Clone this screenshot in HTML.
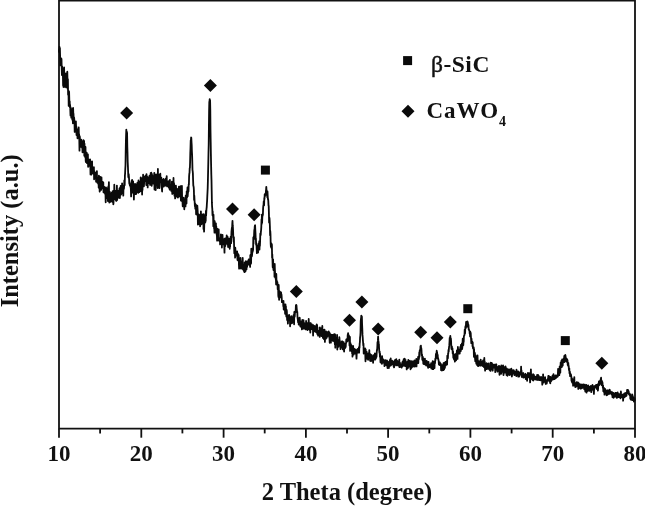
<!DOCTYPE html>
<html><head><meta charset="utf-8"><title>XRD pattern</title>
<style>
html,body{margin:0;padding:0;background:#fff;}
svg{display:block;}
text{font-family:"Liberation Serif","DejaVu Serif",serif;font-weight:bold;fill:#111;}
</style></head><body>
<svg width="645" height="506" viewBox="0 0 645 506">
<rect width="645" height="506" fill="#fff"/>
<g fill="none" stroke="#111" stroke-width="1.8" stroke-linecap="butt">
<path d="M59.0,0 V428.7 H635.0 V0"/>
<line x1="59.0" y1="0.6" x2="635.0" y2="0.6"/>
<line x1="59.0" y1="428.7" x2="59.0" y2="437.7"/><line x1="100.1" y1="428.7" x2="100.1" y2="433.4"/><line x1="141.3" y1="428.7" x2="141.3" y2="437.7"/><line x1="182.4" y1="428.7" x2="182.4" y2="433.4"/><line x1="223.6" y1="428.7" x2="223.6" y2="437.7"/><line x1="264.7" y1="428.7" x2="264.7" y2="433.4"/><line x1="305.9" y1="428.7" x2="305.9" y2="437.7"/><line x1="347.0" y1="428.7" x2="347.0" y2="433.4"/><line x1="388.1" y1="428.7" x2="388.1" y2="437.7"/><line x1="429.3" y1="428.7" x2="429.3" y2="433.4"/><line x1="470.4" y1="428.7" x2="470.4" y2="437.7"/><line x1="511.6" y1="428.7" x2="511.6" y2="433.4"/><line x1="552.7" y1="428.7" x2="552.7" y2="437.7"/><line x1="593.9" y1="428.7" x2="593.9" y2="433.4"/><line x1="635.0" y1="428.7" x2="635.0" y2="437.7"/>
</g>
<path d="M58.9,49.5 59.1,52.0 59.3,49.6 59.5,47.0 59.7,50.2 59.9,48.1 60.1,55.7 60.3,65.4 60.5,57.9 60.7,57.9 60.9,62.7 61.1,60.5 61.3,60.5 61.5,58.9 61.7,67.8 61.9,75.0 62.1,66.3 62.3,73.5 62.5,68.4 62.7,74.4 62.9,74.2 63.1,85.4 63.3,80.5 63.5,87.0 63.7,84.8 63.9,81.4 64.1,67.3 64.3,78.4 64.5,83.5 64.7,86.9 64.9,80.6 65.1,85.6 65.3,79.1 65.5,76.8 65.7,81.1 65.9,73.4 66.1,79.7 66.3,87.4 66.5,83.3 66.7,85.7 66.9,83.4 67.1,79.7 67.3,71.7 67.5,79.9 67.7,89.0 67.9,79.2 68.1,94.8 68.3,93.3 68.5,90.6 68.7,105.9 68.9,100.7 69.1,91.7 69.3,99.8 69.5,103.9 69.7,101.3 69.9,107.3 70.1,104.8 70.3,110.0 70.5,115.4 70.7,107.4 70.9,114.8 71.1,114.2 71.3,117.6 71.5,108.9 71.7,110.2 71.9,110.1 72.1,115.4 72.3,119.7 72.5,110.1 72.7,115.6 72.9,123.3 73.1,107.9 73.3,113.7 73.5,113.6 73.7,119.4 73.9,119.7 74.1,117.5 74.3,119.7 74.5,122.7 74.7,131.9 74.9,122.4 75.1,123.3 75.3,126.9 75.5,124.8 75.7,125.2 75.9,121.4 76.1,127.7 76.3,126.3 76.5,135.1 76.7,133.3 76.9,130.7 77.1,134.9 77.3,130.7 77.5,138.3 77.7,133.9 77.9,137.6 78.1,129.1 78.3,137.9 78.5,128.7 78.7,127.5 78.9,136.6 79.1,134.2 79.3,140.0 79.5,150.7 79.7,136.2 79.9,137.7 80.1,142.3 80.3,144.3 80.5,141.6 80.7,142.0 80.9,146.9 81.1,146.6 81.3,139.6 81.5,144.8 81.7,145.9 81.9,141.1 82.1,148.0 82.3,143.0 82.5,152.3 82.7,149.0 82.9,148.9 83.1,146.1 83.3,148.8 83.5,140.2 83.7,144.8 83.9,152.5 84.1,140.9 84.3,155.7 84.5,143.7 84.7,156.1 84.9,148.9 85.1,157.1 85.3,154.5 85.5,146.9 85.7,160.7 85.9,162.1 86.1,155.5 86.3,155.0 86.5,156.1 86.7,152.7 86.9,163.0 87.1,155.8 87.3,158.6 87.5,155.6 87.7,156.9 87.9,154.4 88.1,166.8 88.3,160.7 88.5,166.5 88.7,162.5 88.9,159.7 89.1,162.0 89.3,161.4 89.5,164.6 89.7,163.3 89.9,164.1 90.1,159.5 90.3,162.6 90.5,174.4 90.7,163.9 90.9,162.5 91.1,169.4 91.3,174.7 91.5,161.7 91.7,167.9 91.9,166.3 92.1,161.4 92.3,173.3 92.5,170.2 92.7,171.0 92.9,167.5 93.1,173.5 93.3,169.2 93.5,171.4 93.7,167.3 93.9,167.2 94.1,179.3 94.3,171.1 94.5,175.1 94.7,173.9 94.9,172.4 95.1,172.4 95.3,177.9 95.5,173.9 95.7,174.9 95.9,176.0 96.1,181.6 96.3,179.7 96.5,178.6 96.7,174.6 96.9,171.1 97.1,182.1 97.3,182.5 97.5,177.7 97.7,181.2 97.9,182.6 98.1,183.2 98.3,184.1 98.5,178.3 98.7,187.7 98.9,175.6 99.1,185.6 99.3,184.4 99.5,186.6 99.7,191.6 99.9,190.2 100.1,178.8 100.3,176.8 100.5,188.5 100.7,180.8 100.9,185.7 101.1,189.9 101.3,179.1 101.5,177.4 101.7,188.3 101.9,187.7 102.1,186.7 102.3,188.3 102.5,184.6 102.7,182.0 102.9,188.3 103.1,185.1 103.3,182.4 103.5,192.3 103.7,190.1 103.9,192.5 104.1,186.6 104.3,188.4 104.5,187.3 104.7,188.1 104.9,193.2 105.1,189.1 105.3,194.4 105.5,194.6 105.7,202.3 105.9,187.4 106.1,197.7 106.3,193.6 106.5,194.2 106.7,188.1 106.9,192.7 107.1,198.2 107.3,194.8 107.5,195.8 107.7,194.4 107.9,201.0 108.1,196.0 108.3,186.5 108.5,193.2 108.7,187.7 108.9,182.2 109.1,194.2 109.3,202.5 109.5,197.0 109.7,191.7 109.9,192.8 110.1,202.0 110.3,197.8 110.5,197.5 110.7,197.1 110.9,197.6 111.1,201.0 111.3,199.8 111.5,198.3 111.7,192.7 111.9,199.4 112.1,194.1 112.3,201.9 112.5,191.4 112.7,196.3 112.9,196.8 113.1,191.0 113.3,204.3 113.5,203.1 113.7,194.6 113.9,199.9 114.1,198.1 114.3,184.7 114.5,197.1 114.7,195.5 114.9,196.0 115.1,190.7 115.3,194.0 115.5,194.2 115.7,200.0 115.9,196.1 116.1,194.4 116.3,200.9 116.5,191.6 116.7,192.1 116.9,185.6 117.1,200.2 117.3,197.3 117.5,196.9 117.7,195.6 117.9,192.9 118.1,193.1 118.3,190.8 118.5,190.7 118.7,191.6 118.9,197.8 119.1,193.4 119.3,190.7 119.5,188.3 119.7,188.1 119.9,198.0 120.1,193.1 120.3,191.1 120.5,189.2 120.7,185.8 120.9,190.4 121.1,194.5 121.3,188.9 121.5,189.6 121.7,189.6 121.9,191.0 122.1,183.3 122.3,189.1 122.5,186.1 122.7,193.5 122.9,186.0 123.1,191.7 123.3,195.6 123.5,187.2 123.7,185.7 123.9,189.0 124.1,186.7 124.3,180.4 124.5,183.1 124.7,185.3 124.9,175.7 125.1,173.3 125.3,168.7 125.5,165.3 125.7,151.5 125.9,141.2 126.1,134.8 126.3,129.7 126.5,132.0 126.7,132.8 126.9,131.8 127.1,133.5 127.3,146.2 127.5,152.4 127.7,161.7 127.9,165.8 128.1,171.1 128.3,176.9 128.5,177.6 128.7,174.2 128.9,176.3 129.1,179.3 129.3,183.4 129.5,182.3 129.7,184.5 129.9,185.5 130.1,183.8 130.3,185.5 130.5,187.2 130.7,186.6 130.9,189.9 131.1,196.4 131.3,190.8 131.5,188.5 131.7,180.8 131.9,190.2 132.1,179.9 132.3,182.4 132.5,192.6 132.7,192.0 132.9,188.3 133.1,181.4 133.3,187.5 133.5,186.2 133.7,192.2 133.9,199.5 134.1,190.5 134.3,186.0 134.5,184.2 134.7,189.1 134.9,188.6 135.1,184.2 135.3,189.8 135.5,184.2 135.7,194.2 135.9,194.0 136.1,194.0 136.3,187.1 136.5,191.4 136.7,188.5 136.9,187.4 137.1,187.5 137.3,183.2 137.5,182.6 137.7,192.4 137.9,187.8 138.1,189.5 138.3,192.8 138.5,180.5 138.7,184.5 138.9,188.7 139.1,189.5 139.3,185.9 139.5,192.0 139.7,188.2 139.9,181.7 140.1,182.7 140.3,190.0 140.5,188.1 140.7,177.3 140.9,191.2 141.1,187.5 141.3,190.4 141.5,182.4 141.7,182.4 141.9,178.4 142.1,194.6 142.3,182.2 142.5,189.9 142.7,179.7 142.9,183.1 143.1,174.7 143.3,180.3 143.5,186.2 143.7,176.0 143.9,186.3 144.1,183.0 144.3,176.7 144.5,179.1 144.7,179.2 144.9,181.1 145.1,178.8 145.3,177.5 145.5,179.8 145.7,176.5 145.9,175.3 146.1,180.8 146.3,185.0 146.5,174.1 146.7,181.0 146.9,178.0 147.1,176.5 147.3,184.7 147.5,178.5 147.7,187.4 147.9,177.2 148.1,182.4 148.3,179.6 148.5,177.3 148.7,183.2 148.9,179.8 149.1,183.2 149.3,180.3 149.5,175.7 149.7,180.1 149.9,180.8 150.1,184.9 150.3,176.6 150.5,180.5 150.7,173.0 150.9,183.6 151.1,175.9 151.3,172.7 151.5,180.5 151.7,185.8 151.9,174.0 152.1,176.0 152.3,177.5 152.5,175.8 152.7,182.6 152.9,177.3 153.1,177.7 153.3,183.6 153.5,177.6 153.7,183.0 153.9,176.7 154.1,175.6 154.3,172.8 154.5,189.6 154.7,179.8 154.9,182.3 155.1,181.1 155.3,182.0 155.5,181.6 155.7,190.0 155.9,176.7 156.1,174.4 156.3,176.9 156.5,175.4 156.7,184.9 156.9,185.3 157.1,177.2 157.3,175.3 157.5,180.0 157.7,188.0 157.9,168.9 158.1,184.1 158.3,176.9 158.5,186.5 158.7,176.9 158.9,180.5 159.1,175.0 159.3,177.5 159.5,188.2 159.7,185.7 159.9,180.2 160.1,178.1 160.3,173.6 160.5,180.5 160.7,182.2 160.9,182.1 161.1,182.1 161.3,177.6 161.5,182.5 161.7,182.7 161.9,188.8 162.1,191.5 162.3,182.5 162.5,179.8 162.7,183.1 162.9,180.7 163.1,180.2 163.3,183.4 163.5,179.0 163.7,186.6 163.9,183.5 164.1,185.2 164.3,183.3 164.5,181.0 164.7,180.1 164.9,183.4 165.1,182.1 165.3,185.7 165.5,184.7 165.7,178.7 165.9,185.3 166.1,179.0 166.3,182.4 166.5,184.0 166.7,176.1 166.9,185.9 167.1,186.3 167.3,185.0 167.5,184.0 167.7,184.3 167.9,181.7 168.1,185.0 168.3,183.8 168.5,186.9 168.7,181.2 168.9,187.7 169.1,187.4 169.3,186.3 169.5,185.1 169.7,189.6 169.9,179.8 170.1,189.4 170.3,188.6 170.5,188.9 170.7,189.4 170.9,184.9 171.1,186.8 171.3,190.9 171.5,190.1 171.7,189.2 171.9,181.6 172.1,190.9 172.3,193.9 172.5,193.3 172.7,189.9 172.9,182.0 173.1,193.3 173.3,188.6 173.5,178.0 173.7,191.1 173.9,182.9 174.1,184.0 174.3,187.1 174.5,195.8 174.7,188.6 174.9,191.6 175.1,198.4 175.3,197.8 175.5,190.5 175.7,190.0 175.9,185.6 176.1,188.3 176.3,193.5 176.5,193.5 176.7,192.4 176.9,196.5 177.1,188.8 177.3,192.2 177.5,195.8 177.7,195.3 177.9,197.7 178.1,194.8 178.3,191.9 178.5,195.0 178.7,189.2 178.9,186.7 179.1,196.7 179.3,194.2 179.5,196.1 179.7,187.5 179.9,193.6 180.1,192.8 180.3,191.9 180.5,186.1 180.7,194.8 180.9,200.5 181.1,198.5 181.3,194.4 181.5,197.3 181.7,200.9 181.9,185.8 182.1,197.6 182.3,200.7 182.5,201.6 182.7,206.3 182.9,204.0 183.1,200.7 183.3,200.9 183.5,203.2 183.7,197.7 183.9,200.1 184.1,204.5 184.3,209.3 184.5,200.3 184.7,200.6 184.9,201.5 185.1,206.3 185.3,200.1 185.5,206.4 185.7,195.6 185.9,198.8 186.1,198.5 186.3,202.6 186.5,203.6 186.7,191.3 186.9,192.8 187.1,197.2 187.3,191.8 187.5,187.5 187.7,196.3 187.9,193.0 188.1,191.9 188.3,187.6 188.5,191.2 188.7,184.3 188.9,184.7 189.1,176.6 189.3,173.8 189.5,173.1 189.7,168.2 189.9,167.8 190.1,162.1 190.3,153.1 190.5,148.0 190.7,140.4 190.9,141.4 191.1,137.5 191.3,137.8 191.5,141.9 191.7,144.9 191.9,151.4 192.1,154.8 192.3,162.0 192.5,170.1 192.7,171.2 192.9,173.6 193.1,180.3 193.3,185.5 193.5,186.1 193.7,187.3 193.9,190.3 194.1,200.0 194.3,195.6 194.5,199.7 194.7,202.8 194.9,206.1 195.1,203.5 195.3,208.6 195.5,204.2 195.7,206.9 195.9,204.6 196.1,214.3 196.3,209.8 196.5,207.3 196.7,209.4 196.9,210.4 197.1,214.8 197.3,205.6 197.5,208.4 197.7,211.7 197.9,224.5 198.1,218.2 198.3,214.1 198.5,218.0 198.7,224.1 198.9,214.8 199.1,214.7 199.3,221.7 199.5,219.1 199.7,220.2 199.9,215.7 200.1,226.3 200.3,225.7 200.5,221.4 200.7,222.3 200.9,211.3 201.1,222.8 201.3,219.7 201.5,222.6 201.7,224.0 201.9,220.0 202.1,214.7 202.3,223.6 202.5,219.3 202.7,221.4 202.9,220.5 203.1,221.9 203.3,214.1 203.5,229.0 203.7,224.8 203.9,228.2 204.1,231.6 204.3,223.3 204.5,215.5 204.7,219.1 204.9,217.6 205.1,220.3 205.3,222.5 205.5,213.7 205.7,221.0 205.9,210.8 206.1,215.8 206.3,211.8 206.5,208.8 206.7,207.1 206.9,203.5 207.1,200.9 207.3,196.1 207.5,192.2 207.7,188.0 207.9,180.4 208.1,171.5 208.3,162.7 208.5,152.7 208.7,144.6 208.9,126.4 209.1,110.7 209.3,101.9 209.5,101.4 209.7,99.2 209.9,101.0 210.1,100.4 210.3,110.2 210.5,130.5 210.7,142.0 210.9,154.2 211.1,164.6 211.3,174.1 211.5,180.1 211.7,190.9 211.9,202.4 212.1,206.8 212.3,208.9 212.5,215.2 212.7,211.3 212.9,216.0 213.1,216.2 213.3,226.2 213.5,214.7 213.7,221.6 213.9,222.8 214.1,228.4 214.3,228.8 214.5,232.7 214.7,221.2 214.9,231.4 215.1,227.8 215.3,227.0 215.5,232.5 215.7,227.3 215.9,223.3 216.1,230.7 216.3,226.5 216.5,230.4 216.7,234.9 216.9,235.1 217.1,240.6 217.3,233.8 217.5,228.8 217.7,232.4 217.9,232.1 218.1,231.3 218.3,238.3 218.5,234.4 218.7,229.5 218.9,240.6 219.1,237.8 219.3,240.0 219.5,239.4 219.7,241.7 219.9,239.5 220.1,244.4 220.3,241.4 220.5,241.4 220.7,241.7 220.9,234.4 221.1,239.7 221.3,239.5 221.5,241.5 221.7,235.5 221.9,247.5 222.1,241.6 222.3,236.6 222.5,234.8 222.7,240.6 222.9,241.6 223.1,239.2 223.3,242.5 223.5,239.7 223.7,244.5 223.9,239.5 224.1,242.3 224.3,246.4 224.5,252.7 224.7,238.7 224.9,241.0 225.1,239.6 225.3,246.0 225.5,238.5 225.7,241.2 225.9,243.1 226.1,239.4 226.3,239.6 226.5,241.6 226.7,235.3 226.9,238.0 227.1,242.1 227.3,244.4 227.5,243.1 227.7,237.0 227.9,242.1 228.1,247.0 228.3,246.0 228.5,243.4 228.7,240.1 228.9,246.0 229.1,241.1 229.3,238.7 229.5,240.1 229.7,248.8 229.9,243.9 230.1,246.8 230.3,239.3 230.5,243.0 230.7,236.6 230.9,236.7 231.1,243.2 231.3,236.8 231.5,231.3 231.7,229.6 231.9,227.7 232.1,228.5 232.3,223.6 232.5,220.9 232.7,225.2 232.9,227.0 233.1,230.9 233.3,237.8 233.5,237.9 233.7,241.6 233.9,237.2 234.1,246.3 234.3,253.2 234.5,250.0 234.7,250.0 234.9,250.8 235.1,257.6 235.3,247.7 235.5,251.3 235.7,254.0 235.9,255.6 236.1,251.6 236.3,254.9 236.5,253.2 236.7,255.2 236.9,254.7 237.1,251.4 237.3,256.1 237.5,260.0 237.7,253.4 237.9,256.6 238.1,260.4 238.3,254.3 238.5,259.5 238.7,255.2 238.9,263.9 239.1,268.7 239.3,268.1 239.5,260.1 239.7,264.1 239.9,262.2 240.1,262.5 240.3,268.2 240.5,257.8 240.7,266.9 240.9,263.0 241.1,268.7 241.3,264.5 241.5,261.6 241.7,265.3 241.9,267.3 242.1,265.0 242.3,266.9 242.5,263.5 242.7,257.8 242.9,269.3 243.1,268.8 243.3,267.0 243.5,267.0 243.7,270.8 243.9,265.6 244.1,265.0 244.3,267.2 244.5,272.2 244.7,262.5 244.9,271.7 245.1,264.7 245.3,262.7 245.5,271.1 245.7,265.8 245.9,261.1 246.1,264.3 246.3,268.8 246.5,269.5 246.7,263.2 246.9,266.0 247.1,266.9 247.3,261.6 247.5,265.0 247.7,263.3 247.9,261.1 248.1,261.0 248.3,262.6 248.5,262.0 248.7,259.4 248.9,259.5 249.1,264.8 249.3,261.0 249.5,263.1 249.7,263.8 249.9,261.1 250.1,266.9 250.3,255.1 250.5,260.7 250.7,256.1 250.9,263.7 251.1,262.7 251.3,248.7 251.5,251.5 251.7,256.5 251.9,256.1 252.1,254.9 252.3,251.0 252.5,252.0 252.7,251.8 252.9,248.2 253.1,250.3 253.3,237.3 253.5,243.8 253.7,236.8 253.9,239.6 254.1,234.1 254.3,229.9 254.5,230.7 254.7,226.8 254.9,225.6 255.1,225.3 255.3,229.8 255.5,233.5 255.7,238.9 255.9,238.6 256.1,244.6 256.3,243.1 256.5,244.6 256.7,249.2 256.9,253.1 257.1,248.5 257.3,248.7 257.5,248.7 257.7,249.4 257.9,245.3 258.1,252.5 258.3,246.7 258.5,249.8 258.7,243.5 258.9,246.8 259.1,245.6 259.3,241.1 259.5,249.5 259.7,241.7 259.9,246.0 260.1,241.4 260.3,233.7 260.5,233.5 260.7,235.1 260.9,231.8 261.1,230.1 261.3,227.0 261.5,219.4 261.7,223.9 261.9,214.7 262.1,222.7 262.3,217.3 262.5,215.8 262.7,215.4 262.9,214.7 263.1,208.3 263.3,205.7 263.5,205.5 263.7,201.5 263.9,201.9 264.1,205.3 264.3,197.9 264.5,199.3 264.7,194.3 264.9,196.5 265.1,194.2 265.3,193.7 265.5,193.8 265.7,194.9 265.9,191.0 266.1,189.8 266.3,186.8 266.5,190.7 266.7,190.3 266.9,193.4 267.1,192.9 267.3,197.3 267.5,191.5 267.7,195.8 267.9,199.1 268.1,198.9 268.3,201.1 268.5,205.4 268.7,205.9 268.9,212.7 269.1,222.6 269.3,222.5 269.5,218.0 269.7,221.5 269.9,226.5 270.1,235.3 270.3,231.0 270.5,234.6 270.7,243.9 270.9,246.9 271.1,244.4 271.3,243.4 271.5,243.5 271.7,248.6 271.9,244.6 272.1,257.8 272.3,254.3 272.5,260.3 272.7,267.3 272.9,266.5 273.1,259.3 273.3,267.9 273.5,270.1 273.7,264.2 273.9,264.6 274.1,268.8 274.3,264.5 274.5,276.8 274.7,263.9 274.9,269.7 275.1,273.8 275.3,275.1 275.5,277.7 275.7,279.1 275.9,278.6 276.1,284.4 276.3,273.9 276.5,282.1 276.7,280.3 276.9,284.0 277.1,285.0 277.3,281.8 277.5,283.4 277.7,289.1 277.9,288.3 278.1,285.5 278.3,295.5 278.5,297.1 278.7,285.0 278.9,291.7 279.1,299.8 279.3,294.4 279.5,293.0 279.7,292.1 279.9,291.5 280.1,293.1 280.3,292.5 280.5,297.4 280.7,294.1 280.9,294.5 281.1,292.5 281.3,296.8 281.5,294.5 281.7,297.4 281.9,302.1 282.1,300.6 282.3,301.8 282.5,302.0 282.7,301.8 282.9,301.9 283.1,302.0 283.3,306.2 283.5,301.0 283.7,309.5 283.9,306.0 284.1,304.2 284.3,305.8 284.5,305.9 284.7,309.3 284.9,307.2 285.1,313.8 285.3,308.5 285.5,304.5 285.7,309.9 285.9,306.3 286.1,312.8 286.3,316.5 286.5,315.6 286.7,309.8 286.9,311.9 287.1,320.1 287.3,316.0 287.5,315.4 287.7,319.0 287.9,323.6 288.1,320.4 288.3,317.2 288.5,318.2 288.7,319.4 288.9,316.0 289.1,314.9 289.3,318.5 289.5,315.7 289.7,318.6 289.9,319.3 290.1,326.3 290.3,316.9 290.5,319.3 290.7,319.4 290.9,321.5 291.1,323.5 291.3,319.1 291.5,318.4 291.7,316.1 291.9,318.5 292.1,323.1 292.3,321.5 292.5,318.1 292.7,319.9 292.9,321.0 293.1,322.2 293.3,318.8 293.5,319.6 293.7,314.8 293.9,316.6 294.1,324.3 294.3,312.0 294.5,316.2 294.7,316.6 294.9,313.9 295.1,311.8 295.3,312.4 295.5,311.4 295.7,310.0 295.9,305.2 296.1,307.5 296.3,305.0 296.5,305.6 296.7,308.2 296.9,310.3 297.1,312.9 297.3,311.9 297.5,316.8 297.7,318.9 297.9,320.2 298.1,322.4 298.3,319.6 298.5,320.8 298.7,324.5 298.9,318.2 299.1,323.0 299.3,321.0 299.5,321.7 299.7,317.7 299.9,320.4 300.1,323.2 300.3,326.1 300.5,326.5 300.7,323.5 300.9,323.4 301.1,321.6 301.3,325.3 301.5,323.4 301.7,326.0 301.9,329.4 302.1,324.2 302.3,320.0 302.5,321.9 302.7,320.2 302.9,321.0 303.1,328.5 303.3,325.3 303.5,320.2 303.7,326.7 303.9,328.6 304.1,323.8 304.3,323.0 304.5,324.0 304.7,325.9 304.9,327.0 305.1,328.7 305.3,328.8 305.5,328.8 305.7,329.4 305.9,327.4 306.1,321.0 306.3,325.2 306.5,326.5 306.7,324.5 306.9,328.4 307.1,324.7 307.3,323.1 307.5,330.1 307.7,327.9 307.9,326.6 308.1,328.8 308.3,329.2 308.5,327.1 308.7,319.0 308.9,324.3 309.1,324.9 309.3,323.5 309.5,327.0 309.7,329.9 309.9,325.1 310.1,323.2 310.3,332.5 310.5,325.3 310.7,323.1 310.9,327.4 311.1,328.0 311.3,324.8 311.5,329.2 311.7,325.5 311.9,324.3 312.1,327.5 312.3,329.3 312.5,325.2 312.7,328.1 312.9,326.9 313.1,335.5 313.3,325.2 313.5,331.4 313.7,327.2 313.9,327.1 314.1,329.6 314.3,330.1 314.5,331.3 314.7,328.6 314.9,325.9 315.1,326.2 315.3,329.2 315.5,329.5 315.7,331.9 315.9,329.1 316.1,331.0 316.3,332.4 316.5,328.8 316.7,324.3 316.9,325.5 317.1,325.0 317.3,334.1 317.5,327.3 317.7,333.6 317.9,332.1 318.1,335.6 318.3,333.8 318.5,331.0 318.7,331.0 318.9,332.1 319.1,332.5 319.3,330.6 319.5,332.1 319.7,336.9 319.9,327.5 320.1,333.2 320.3,329.9 320.5,333.1 320.7,335.1 320.9,332.6 321.1,335.0 321.3,328.4 321.5,336.1 321.7,331.4 321.9,334.9 322.1,333.7 322.3,326.0 322.5,331.3 322.7,334.1 322.9,337.9 323.1,334.4 323.3,334.4 323.5,329.8 323.7,337.9 323.9,339.0 324.1,334.1 324.3,333.5 324.5,329.6 324.7,336.7 324.9,341.9 325.1,336.4 325.3,338.1 325.5,336.1 325.7,332.0 325.9,338.6 326.1,331.5 326.3,334.5 326.5,336.0 326.7,337.8 326.9,336.6 327.1,336.7 327.3,333.6 327.5,332.2 327.7,336.1 327.9,334.1 328.1,332.6 328.3,332.8 328.5,335.1 328.7,331.4 328.9,333.0 329.1,332.3 329.3,337.5 329.5,338.2 329.7,342.8 329.9,333.2 330.1,335.6 330.3,340.1 330.5,337.1 330.7,336.9 330.9,342.6 331.1,337.1 331.3,335.0 331.5,334.7 331.7,339.3 331.9,339.4 332.1,334.9 332.3,336.1 332.5,340.4 332.7,340.6 332.9,337.4 333.1,341.0 333.3,340.9 333.5,334.6 333.7,338.8 333.9,340.9 334.1,338.3 334.3,334.1 334.5,339.3 334.7,342.3 334.9,344.6 335.1,334.5 335.3,347.7 335.5,337.6 335.7,343.4 335.9,344.3 336.1,343.7 336.3,341.6 336.5,338.2 336.7,343.1 336.9,339.6 337.1,334.9 337.3,349.5 337.5,343.9 337.7,347.0 337.9,339.8 338.1,346.3 338.3,346.8 338.5,346.8 338.7,342.7 338.9,339.7 339.1,342.5 339.3,337.2 339.5,338.7 339.7,343.6 339.9,340.9 340.1,343.2 340.3,343.5 340.5,349.1 340.7,347.5 340.9,344.1 341.1,347.5 341.3,342.4 341.5,343.6 341.7,347.0 341.9,341.4 342.1,344.0 342.3,341.3 342.5,345.2 342.7,349.3 342.9,343.1 343.1,345.7 343.3,342.8 343.5,342.2 343.7,342.1 343.9,349.3 344.1,351.7 344.3,346.8 344.5,343.7 344.7,347.6 344.9,344.9 345.1,348.0 345.3,346.7 345.5,346.7 345.7,347.0 345.9,343.4 346.1,343.3 346.3,339.4 346.5,342.1 346.7,339.2 346.9,341.8 347.1,339.3 347.3,341.2 347.5,340.3 347.7,334.8 347.9,334.4 348.1,333.1 348.3,334.9 348.5,336.6 348.7,336.4 348.9,335.3 349.1,340.9 349.3,336.8 349.5,345.4 349.7,341.2 349.9,336.8 350.1,350.9 350.3,349.1 350.5,343.1 350.7,347.0 350.9,346.8 351.1,348.4 351.3,345.0 351.5,347.9 351.7,351.3 351.9,350.8 352.1,353.4 352.3,350.6 352.5,356.6 352.7,348.9 352.9,351.5 353.1,346.0 353.3,347.9 353.5,354.6 353.7,348.9 353.9,352.8 354.1,351.4 354.3,348.9 354.5,350.7 354.7,350.3 354.9,350.4 355.1,353.6 355.3,353.4 355.5,350.3 355.7,349.5 355.9,352.5 356.1,351.6 356.3,354.5 356.5,358.6 356.7,354.1 356.9,351.9 357.1,351.5 357.3,349.7 357.5,349.4 357.7,348.9 357.9,350.2 358.1,349.9 358.3,352.7 358.5,349.5 358.7,349.8 358.9,347.1 359.1,352.7 359.3,347.6 359.5,347.8 359.7,343.4 359.9,342.2 360.1,336.9 360.3,336.1 360.5,332.9 360.7,321.7 360.9,319.0 361.1,318.4 361.3,315.6 361.5,316.0 361.7,317.9 361.9,316.7 362.1,324.2 362.3,328.6 362.5,334.9 362.7,337.1 362.9,340.1 363.1,342.7 363.3,345.5 363.5,343.7 363.7,353.5 363.9,353.0 364.1,352.5 364.3,350.2 364.5,351.3 364.7,353.4 364.9,353.5 365.1,348.5 365.3,355.2 365.5,361.3 365.7,349.3 365.9,356.8 366.1,355.3 366.3,354.2 366.5,358.2 366.7,351.8 366.9,355.4 367.1,358.8 367.3,354.7 367.5,354.3 367.7,355.8 367.9,354.6 368.1,359.8 368.3,353.7 368.5,358.3 368.7,353.1 368.9,358.1 369.1,356.3 369.3,350.1 369.5,356.7 369.7,354.1 369.9,355.7 370.1,360.8 370.3,354.2 370.5,354.4 370.7,360.8 370.9,357.5 371.1,361.2 371.3,358.2 371.5,355.2 371.7,357.3 371.9,360.7 372.1,360.0 372.3,357.7 372.5,357.9 372.7,357.6 372.9,356.5 373.1,362.8 373.3,358.0 373.5,355.1 373.7,356.7 373.9,359.6 374.1,359.4 374.3,357.4 374.5,356.0 374.7,357.7 374.9,353.4 375.1,354.3 375.3,359.6 375.5,356.3 375.7,357.4 375.9,358.4 376.1,356.0 376.3,353.5 376.5,357.0 376.7,352.9 376.9,349.8 377.1,350.1 377.3,347.0 377.5,342.4 377.7,342.0 377.9,340.4 378.1,336.6 378.3,340.4 378.5,341.5 378.7,343.2 378.9,343.9 379.1,348.9 379.3,351.5 379.5,353.1 379.7,351.6 379.9,356.7 380.1,353.7 380.3,357.2 380.5,362.3 380.7,357.6 380.9,358.4 381.1,362.7 381.3,359.4 381.5,359.9 381.7,361.5 381.9,363.9 382.1,356.1 382.3,359.6 382.5,359.2 382.7,359.0 382.9,359.6 383.1,359.7 383.3,362.6 383.5,359.7 383.7,362.2 383.9,363.0 384.1,360.3 384.3,362.4 384.5,366.1 384.7,363.0 384.9,360.7 385.1,362.1 385.3,360.1 385.5,363.0 385.7,364.5 385.9,360.5 386.1,362.0 386.3,365.3 386.5,361.4 386.7,363.1 386.9,360.3 387.1,360.8 387.3,361.6 387.5,368.0 387.7,362.0 387.9,361.7 388.1,361.7 388.3,362.7 388.5,364.6 388.7,363.5 388.9,368.0 389.1,363.7 389.3,366.6 389.5,363.9 389.7,364.7 389.9,359.9 390.1,363.0 390.3,363.2 390.5,362.8 390.7,358.3 390.9,365.5 391.1,362.5 391.3,362.4 391.5,362.9 391.7,363.0 391.9,364.5 392.1,360.6 392.3,361.4 392.5,364.3 392.7,364.0 392.9,362.8 393.1,362.4 393.3,361.8 393.5,363.6 393.7,366.6 393.9,361.4 394.1,367.4 394.3,365.9 394.5,362.9 394.7,365.8 394.9,360.6 395.1,360.0 395.3,361.0 395.5,363.1 395.7,363.3 395.9,362.9 396.1,364.3 396.3,359.1 396.5,365.3 396.7,360.8 396.9,362.6 397.1,363.2 397.3,361.5 397.5,361.0 397.7,361.9 397.9,364.2 398.1,365.6 398.3,365.6 398.5,362.0 398.7,362.5 398.9,362.2 399.1,365.4 399.3,359.6 399.5,367.2 399.7,363.2 399.9,362.6 400.1,365.2 400.3,366.8 400.5,365.2 400.7,366.8 400.9,364.7 401.1,367.2 401.3,367.2 401.5,364.1 401.7,367.7 401.9,364.7 402.1,364.5 402.3,362.2 402.5,363.6 402.7,366.1 402.9,361.2 403.1,365.8 403.3,365.1 403.5,364.9 403.7,359.1 403.9,364.0 404.1,365.7 404.3,362.4 404.5,364.4 404.7,358.7 404.9,365.8 405.1,362.7 405.3,366.2 405.5,359.9 405.7,365.8 405.9,363.6 406.1,366.0 406.3,362.0 406.5,362.7 406.7,369.4 406.9,362.2 407.1,362.5 407.3,363.5 407.5,361.7 407.7,366.9 407.9,368.1 408.1,362.4 408.3,360.0 408.5,366.8 408.7,366.6 408.9,366.0 409.1,366.7 409.3,362.0 409.5,363.6 409.7,360.8 409.9,360.7 410.1,366.3 410.3,362.4 410.5,369.3 410.7,364.2 410.9,362.5 411.1,365.9 411.3,368.2 411.5,365.1 411.7,361.2 411.9,364.9 412.1,367.2 412.3,362.8 412.5,362.2 412.7,366.4 412.9,364.3 413.1,361.4 413.3,363.1 413.5,362.2 413.7,364.7 413.9,364.3 414.1,366.7 414.3,365.7 414.5,360.3 414.7,365.0 414.9,366.1 415.1,365.1 415.3,366.4 415.5,362.7 415.7,361.8 415.9,366.2 416.1,361.5 416.3,359.0 416.5,366.4 416.7,362.3 416.9,363.3 417.1,360.6 417.3,360.3 417.5,360.4 417.7,361.8 417.9,363.0 418.1,356.8 418.3,363.0 418.5,358.5 418.7,357.4 418.9,359.3 419.1,356.4 419.3,352.3 419.5,356.6 419.7,350.6 419.9,351.0 420.1,349.5 420.3,350.0 420.5,346.1 420.7,346.9 420.9,345.6 421.1,349.5 421.3,348.1 421.5,350.2 421.7,355.3 421.9,354.1 422.1,354.9 422.3,359.8 422.5,357.7 422.7,356.6 422.9,360.7 423.1,358.0 423.3,363.5 423.5,364.0 423.7,360.4 423.9,360.6 424.1,362.6 424.3,362.5 424.5,360.6 424.7,364.3 424.9,358.6 425.1,362.6 425.3,362.9 425.5,363.4 425.7,364.8 425.9,361.2 426.1,365.4 426.3,363.7 426.5,362.6 426.7,361.0 426.9,361.4 427.1,365.0 427.3,362.0 427.5,364.4 427.7,366.7 427.9,366.7 428.1,367.9 428.3,363.6 428.5,361.8 428.7,366.7 428.9,365.1 429.1,367.0 429.3,364.4 429.5,367.2 429.7,366.4 429.9,366.2 430.1,365.7 430.3,365.4 430.5,365.0 430.7,364.9 430.9,366.7 431.1,363.2 431.3,368.4 431.5,364.1 431.7,366.6 431.9,364.1 432.1,363.7 432.3,369.0 432.5,363.5 432.7,361.2 432.9,362.5 433.1,363.4 433.3,369.2 433.5,364.6 433.7,366.3 433.9,361.7 434.1,364.9 434.3,365.6 434.5,368.2 434.7,361.6 434.9,363.7 435.1,362.2 435.3,358.7 435.5,360.0 435.7,358.7 435.9,354.0 436.1,358.3 436.3,356.6 436.5,353.4 436.7,350.7 436.9,354.0 437.1,352.1 437.3,354.5 437.5,356.4 437.7,354.8 437.9,358.7 438.1,358.0 438.3,359.3 438.5,360.1 438.7,361.2 438.9,364.5 439.1,363.4 439.3,363.6 439.5,363.5 439.7,365.1 439.9,362.4 440.1,363.5 440.3,364.8 440.5,363.7 440.7,365.0 440.9,364.0 441.1,370.1 441.3,368.5 441.5,366.5 441.7,365.3 441.9,370.5 442.1,366.1 442.3,365.2 442.5,366.1 442.7,366.0 442.9,368.6 443.1,365.3 443.3,370.1 443.5,363.2 443.7,366.8 443.9,362.9 444.1,369.4 444.3,364.4 444.5,365.0 444.7,367.3 444.9,368.0 445.1,362.5 445.3,364.3 445.5,361.8 445.7,365.4 445.9,364.8 446.1,364.2 446.3,363.0 446.5,362.8 446.7,361.1 446.9,363.2 447.1,364.5 447.3,355.7 447.5,359.0 447.7,357.5 447.9,358.3 448.1,353.3 448.3,353.4 448.5,349.9 448.7,351.6 448.9,348.8 449.1,346.6 449.3,345.4 449.5,342.1 449.7,337.8 449.9,339.3 450.1,337.6 450.3,335.8 450.5,338.6 450.7,340.2 450.9,338.5 451.1,341.2 451.3,347.5 451.5,349.2 451.7,346.3 451.9,346.5 452.1,348.6 452.3,350.0 452.5,348.5 452.7,353.5 452.9,351.1 453.1,351.8 453.3,357.6 453.5,354.2 453.7,356.2 453.9,358.5 454.1,359.5 454.3,357.2 454.5,357.9 454.7,355.5 454.9,361.6 455.1,358.7 455.3,354.1 455.5,356.6 455.7,358.1 455.9,357.3 456.1,360.3 456.3,358.6 456.5,353.3 456.7,353.9 456.9,350.4 457.1,353.7 457.3,352.9 457.5,358.9 457.7,352.4 457.9,347.0 458.1,350.7 458.3,352.8 458.5,349.5 458.7,350.6 458.9,352.0 459.1,353.7 459.3,352.0 459.5,349.7 459.7,353.6 459.9,349.8 460.1,349.5 460.3,346.9 460.5,348.0 460.7,351.1 460.9,344.8 461.1,348.2 461.3,349.7 461.5,346.4 461.7,347.4 461.9,343.4 462.1,349.0 462.3,347.6 462.5,344.6 462.7,338.7 462.9,339.7 463.1,344.1 463.3,345.3 463.5,340.8 463.7,342.0 463.9,336.1 464.1,336.0 464.3,335.2 464.5,334.9 464.7,329.6 464.9,333.5 465.1,333.1 465.3,327.5 465.5,326.2 465.7,328.4 465.9,325.7 466.1,321.9 466.3,326.3 466.5,324.8 466.7,323.2 466.9,326.9 467.1,323.2 467.3,321.3 467.5,323.2 467.7,322.0 467.9,323.0 468.1,325.5 468.3,324.5 468.5,325.2 468.7,329.7 468.9,329.1 469.1,329.9 469.3,330.2 469.5,330.9 469.7,333.6 469.9,331.6 470.1,336.4 470.3,331.7 470.5,334.2 470.7,332.8 470.9,336.2 471.1,339.5 471.3,343.1 471.5,338.6 471.7,341.5 471.9,341.7 472.1,341.8 472.3,341.7 472.5,346.2 472.7,342.3 472.9,347.9 473.1,348.5 473.3,347.6 473.5,347.5 473.7,347.3 473.9,356.5 474.1,349.1 474.3,357.3 474.5,355.7 474.7,354.1 474.9,352.9 475.1,359.2 475.3,361.4 475.5,355.2 475.7,357.1 475.9,360.7 476.1,359.3 476.3,363.6 476.5,357.7 476.7,360.7 476.9,356.7 477.1,365.1 477.3,358.6 477.5,355.4 477.7,360.7 477.9,361.0 478.1,366.1 478.3,360.8 478.5,361.7 478.7,363.3 478.9,365.7 479.1,361.9 479.3,364.6 479.5,363.5 479.7,361.6 479.9,362.6 480.1,362.6 480.3,360.5 480.5,365.6 480.7,359.6 480.9,365.7 481.1,365.3 481.3,362.9 481.5,361.5 481.7,362.8 481.9,364.6 482.1,365.3 482.3,364.3 482.5,366.0 482.7,362.5 482.9,364.4 483.1,360.3 483.3,365.8 483.5,364.5 483.7,363.3 483.9,367.0 484.1,366.0 484.3,357.9 484.5,364.7 484.7,361.3 484.9,367.2 485.1,370.6 485.3,363.7 485.5,365.2 485.7,364.5 485.9,366.0 486.1,366.7 486.3,368.3 486.5,363.1 486.7,369.1 486.9,363.5 487.1,366.3 487.3,368.4 487.5,367.5 487.7,363.8 487.9,364.4 488.1,365.1 488.3,366.1 488.5,368.9 488.7,363.4 488.9,367.5 489.1,367.9 489.3,367.8 489.5,367.7 489.7,370.1 489.9,367.8 490.1,368.7 490.3,368.1 490.5,370.9 490.7,362.6 490.9,369.9 491.1,366.4 491.3,366.4 491.5,364.9 491.7,362.9 491.9,366.3 492.1,365.6 492.3,368.4 492.5,364.0 492.7,370.6 492.9,368.0 493.1,366.9 493.3,365.9 493.5,365.7 493.7,365.0 493.9,366.4 494.1,367.7 494.3,367.3 494.5,364.6 494.7,367.2 494.9,365.8 495.1,368.3 495.3,372.2 495.5,369.4 495.7,367.3 495.9,364.4 496.1,365.0 496.3,364.4 496.5,369.9 496.7,366.6 496.9,368.5 497.1,367.0 497.3,368.7 497.5,371.7 497.7,367.0 497.9,367.9 498.1,366.9 498.3,370.7 498.5,366.5 498.7,366.3 498.9,365.8 499.1,365.8 499.3,370.1 499.5,374.8 499.7,366.9 499.9,371.3 500.1,369.8 500.3,366.8 500.5,368.7 500.7,368.9 500.9,367.9 501.1,373.8 501.3,365.3 501.5,370.5 501.7,370.4 501.9,368.4 502.1,370.1 502.3,371.8 502.5,370.2 502.7,370.8 502.9,371.5 503.1,365.5 503.3,373.4 503.5,375.2 503.7,372.4 503.9,372.5 504.1,367.1 504.3,370.1 504.5,368.6 504.7,369.1 504.9,372.6 505.1,368.7 505.3,370.3 505.5,366.4 505.7,370.3 505.9,370.9 506.1,369.2 506.3,369.2 506.5,375.0 506.7,368.3 506.9,368.7 507.1,369.2 507.3,373.7 507.5,375.8 507.7,371.9 507.9,369.6 508.1,370.3 508.3,373.7 508.5,369.4 508.7,374.6 508.9,374.6 509.1,371.7 509.3,373.0 509.5,373.3 509.7,375.1 509.9,369.4 510.1,374.4 510.3,371.0 510.5,370.2 510.7,372.1 510.9,371.5 511.1,369.9 511.3,368.6 511.5,370.1 511.7,375.4 511.9,376.5 512.1,373.7 512.3,374.9 512.5,371.2 512.7,372.3 512.9,373.1 513.1,370.2 513.3,370.4 513.5,372.8 513.7,372.0 513.9,370.4 514.1,373.6 514.3,372.3 514.5,375.1 514.7,372.9 514.9,372.3 515.1,373.3 515.3,372.7 515.5,371.7 515.7,372.3 515.9,374.8 516.1,374.7 516.3,376.1 516.5,369.7 516.7,372.6 516.9,372.6 517.1,373.9 517.3,372.6 517.5,372.5 517.7,375.4 517.9,374.1 518.1,371.3 518.3,376.7 518.5,376.0 518.7,372.7 518.9,375.8 519.1,372.4 519.3,376.5 519.5,373.6 519.7,372.4 519.9,373.4 520.1,372.6 520.3,374.7 520.5,374.7 520.7,374.5 520.9,373.2 521.1,366.6 521.3,374.7 521.5,370.5 521.7,375.1 521.9,377.1 522.1,375.3 522.3,373.9 522.5,374.4 522.7,374.6 522.9,373.7 523.1,373.7 523.3,373.0 523.5,377.6 523.7,375.0 523.9,377.1 524.1,374.6 524.3,375.4 524.5,374.9 524.7,376.3 524.9,377.1 525.1,375.9 525.3,374.0 525.5,373.8 525.7,379.0 525.9,375.0 526.1,375.0 526.3,378.8 526.5,378.0 526.7,376.9 526.9,374.9 527.1,380.8 527.3,376.7 527.5,377.1 527.7,375.6 527.9,373.0 528.1,373.2 528.3,376.9 528.5,377.0 528.7,375.7 528.9,373.7 529.1,373.2 529.3,375.6 529.5,373.3 529.7,378.3 529.9,378.8 530.1,382.4 530.3,378.4 530.5,375.3 530.7,374.8 530.9,369.4 531.1,375.4 531.3,376.3 531.5,378.8 531.7,378.1 531.9,378.1 532.1,377.3 532.3,378.3 532.5,380.0 532.7,374.8 532.9,376.1 533.1,374.2 533.3,380.5 533.5,379.9 533.7,378.8 533.9,374.8 534.1,377.7 534.3,376.9 534.5,377.6 534.7,377.0 534.9,378.6 535.1,376.7 535.3,379.4 535.5,378.1 535.7,377.1 535.9,377.5 536.1,376.9 536.3,379.6 536.5,377.4 536.7,378.6 536.9,377.2 537.1,375.0 537.3,380.0 537.5,376.0 537.7,379.7 537.9,379.2 538.1,375.0 538.3,376.5 538.5,377.4 538.7,376.9 538.9,376.2 539.1,380.2 539.3,378.2 539.5,379.6 539.7,378.0 539.9,379.5 540.1,377.4 540.3,379.0 540.5,380.3 540.7,379.2 540.9,378.2 541.1,377.0 541.3,379.6 541.5,380.1 541.7,378.9 541.9,377.9 542.1,380.6 542.3,384.6 542.5,378.9 542.7,380.3 542.9,380.4 543.1,374.4 543.3,379.9 543.5,378.3 543.7,382.5 543.9,379.2 544.1,378.2 544.3,379.4 544.5,380.2 544.7,378.7 544.9,379.8 545.1,377.1 545.3,379.5 545.5,381.5 545.7,384.0 545.9,381.4 546.1,380.6 546.3,382.5 546.5,382.2 546.7,383.5 546.9,382.3 547.1,379.9 547.3,380.7 547.5,380.6 547.7,380.8 547.9,380.7 548.1,378.7 548.3,376.0 548.5,378.8 548.7,376.0 548.9,380.2 549.1,380.0 549.3,376.5 549.5,381.2 549.7,381.5 549.9,379.9 550.1,383.0 550.3,383.3 550.5,377.0 550.7,381.5 550.9,380.2 551.1,380.1 551.3,381.0 551.5,377.6 551.7,377.8 551.9,377.2 552.1,377.3 552.3,378.6 552.5,375.7 552.7,376.5 552.9,379.7 553.1,378.3 553.3,379.0 553.5,374.2 553.7,376.3 553.9,376.6 554.1,377.6 554.3,376.1 554.5,379.1 554.7,376.9 554.9,376.8 555.1,376.7 555.3,377.9 555.5,375.3 555.7,378.4 555.9,376.9 556.1,376.1 556.3,375.7 556.5,376.5 556.7,377.4 556.9,377.0 557.1,375.7 557.3,376.5 557.5,374.8 557.7,376.7 557.9,373.6 558.1,368.8 558.3,375.6 558.5,372.6 558.7,369.4 558.9,371.0 559.1,369.1 559.3,375.2 559.5,371.3 559.7,366.3 559.9,370.5 560.1,368.0 560.3,372.7 560.5,365.7 560.7,362.4 560.9,366.9 561.1,365.4 561.3,364.7 561.5,360.6 561.7,365.3 561.9,367.1 562.1,359.5 562.3,364.8 562.5,360.9 562.7,365.7 562.9,361.6 563.1,360.0 563.3,362.1 563.5,360.8 563.7,358.6 563.9,360.5 564.1,358.2 564.3,355.8 564.5,362.0 564.7,357.7 564.9,357.0 565.1,358.3 565.3,354.9 565.5,355.7 565.7,357.5 565.9,357.8 566.1,359.3 566.3,361.5 566.5,359.1 566.7,361.2 566.9,361.9 567.1,359.2 567.3,362.0 567.5,360.2 567.7,365.0 567.9,364.7 568.1,364.8 568.3,362.8 568.5,366.8 568.7,365.8 568.9,370.0 569.1,369.1 569.3,368.4 569.5,373.2 569.7,373.7 569.9,371.7 570.1,376.1 570.3,373.5 570.5,374.1 570.7,375.5 570.9,374.3 571.1,375.5 571.3,376.7 571.5,380.8 571.7,381.2 571.9,378.2 572.1,382.5 572.3,379.4 572.5,380.6 572.7,382.0 572.9,381.1 573.1,385.8 573.3,381.7 573.5,379.2 573.7,384.5 573.9,381.5 574.1,382.0 574.3,377.1 574.5,385.3 574.7,385.2 574.9,385.2 575.1,385.7 575.3,387.2 575.5,383.9 575.7,385.9 575.9,382.8 576.1,383.6 576.3,386.5 576.5,385.3 576.7,382.1 576.9,385.5 577.1,384.5 577.3,383.4 577.5,385.9 577.7,384.4 577.9,382.3 578.1,383.3 578.3,388.9 578.5,382.8 578.7,386.2 578.9,387.1 579.1,387.2 579.3,383.8 579.5,385.6 579.7,386.6 579.9,388.0 580.1,385.3 580.3,384.4 580.5,388.5 580.7,388.7 580.9,387.4 581.1,385.6 581.3,387.5 581.5,387.0 581.7,388.4 581.9,384.5 582.1,387.1 582.3,386.6 582.5,384.9 582.7,387.4 582.9,387.1 583.1,386.3 583.3,387.9 583.5,384.5 583.7,387.1 583.9,388.0 584.1,387.8 584.3,389.3 584.5,385.1 584.7,384.6 584.9,387.9 585.1,388.3 585.3,391.5 585.5,388.7 585.7,385.9 585.9,389.1 586.1,386.1 586.3,384.9 586.5,392.6 586.7,388.4 586.9,389.1 587.1,388.9 587.3,391.3 587.5,388.4 587.7,390.2 587.9,386.1 588.1,385.4 588.3,390.7 588.5,390.7 588.7,389.0 588.9,388.4 589.1,388.3 589.3,386.7 589.5,390.9 589.7,389.2 589.9,388.9 590.1,388.7 590.3,390.0 590.5,388.9 590.7,389.4 590.9,385.8 591.1,389.0 591.3,392.1 591.5,387.0 591.7,387.8 591.9,389.7 592.1,389.8 592.3,389.2 592.5,385.0 592.7,388.9 592.9,385.8 593.1,386.5 593.3,389.0 593.5,387.4 593.7,389.5 593.9,393.9 594.1,389.4 594.3,389.3 594.5,386.2 594.7,386.6 594.9,385.8 595.1,386.7 595.3,385.6 595.5,386.4 595.7,387.2 595.9,385.6 596.1,384.8 596.3,384.9 596.5,388.2 596.7,387.4 596.9,389.1 597.1,389.1 597.3,386.5 597.5,388.3 597.7,384.4 597.9,390.7 598.1,388.3 598.3,385.5 598.5,383.4 598.7,385.7 598.9,381.5 599.1,383.0 599.3,385.1 599.5,383.6 599.7,382.3 599.9,384.2 600.1,380.7 600.3,382.3 600.5,380.7 600.7,379.0 600.9,379.8 601.1,377.7 601.3,383.1 601.5,380.6 601.7,385.2 601.9,381.0 602.1,384.4 602.3,382.0 602.5,382.7 602.7,386.3 602.9,388.2 603.1,385.6 603.3,391.2 603.5,388.5 603.7,390.6 603.9,391.4 604.1,392.2 604.3,388.2 604.5,394.7 604.7,393.0 604.9,391.3 605.1,390.3 605.3,389.2 605.5,389.8 605.7,393.3 605.9,391.8 606.1,390.4 606.3,391.5 606.5,395.3 606.7,392.0 606.9,391.6 607.1,395.1 607.3,393.6 607.5,392.9 607.7,391.8 607.9,390.2 608.1,390.9 608.3,392.2 608.5,392.7 608.7,393.8 608.9,394.2 609.1,393.6 609.3,393.7 609.5,391.6 609.7,389.7 609.9,392.6 610.1,391.9 610.3,392.4 610.5,393.1 610.7,391.5 610.9,391.8 611.1,393.6 611.3,394.0 611.5,392.7 611.7,394.7 611.9,393.5 612.1,392.2 612.3,394.1 612.5,397.3 612.7,392.9 612.9,396.1 613.1,396.5 613.3,396.8 613.5,392.8 613.7,397.8 613.9,394.5 614.1,393.9 614.3,394.0 614.5,395.5 614.7,394.6 614.9,394.2 615.1,396.8 615.3,393.4 615.5,392.9 615.7,396.1 615.9,396.0 616.1,396.7 616.3,393.0 616.5,396.7 616.7,395.8 616.9,398.0 617.1,392.9 617.3,395.4 617.5,394.6 617.7,392.5 617.9,394.0 618.1,397.1 618.3,394.5 618.5,394.1 618.7,396.8 618.9,397.1 619.1,397.1 619.3,394.2 619.5,395.4 619.7,397.3 619.9,394.5 620.1,394.4 620.3,397.1 620.5,398.4 620.7,393.9 620.9,391.5 621.1,393.4 621.3,394.2 621.5,395.7 621.7,397.0 621.9,395.8 622.1,394.9 622.3,396.4 622.5,394.6 622.7,396.1 622.9,395.2 623.1,400.8 623.3,397.7 623.5,395.0 623.7,394.8 623.9,395.7 624.1,393.7 624.3,395.0 624.5,394.8 624.7,397.3 624.9,394.9 625.1,394.1 625.3,393.0 625.5,393.1 625.7,394.7 625.9,394.3 626.1,396.2 626.3,393.2 626.5,395.7 626.7,394.0 626.9,393.2 627.1,389.8 627.3,390.5 627.5,393.2 627.7,392.9 627.9,390.0 628.1,390.8 628.3,390.3 628.5,391.6 628.7,391.5 628.9,394.3 629.1,393.8 629.3,393.3 629.5,393.5 629.7,395.3 629.9,395.4 630.1,394.1 630.3,398.7 630.5,396.8 630.7,396.8 630.9,399.7 631.1,399.2 631.3,397.5 631.5,398.6 631.7,396.1 631.9,396.9 632.1,394.3 632.3,400.1 632.5,395.1 632.7,399.4 632.9,397.0 633.1,396.9 633.3,398.2 633.5,399.1 633.7,399.7 633.9,401.6 634.1,399.5 634.3,400.4 634.5,398.1 634.7,400.3 634.9,399.5" fill="none" stroke="#0a0a0a" stroke-width="1.8" stroke-linejoin="round"/>
<g fill="#0a0a0a">
<path d="M126.6,106.5 L133.1,113.0 L126.6,119.5 L120.1,113.0Z"/><path d="M210.4,79.0 L216.9,85.5 L210.4,92.0 L203.9,85.5Z"/><path d="M232.5,202.5 L239.0,209.0 L232.5,215.5 L226.0,209.0Z"/><path d="M254.1,208.3 L260.6,214.8 L254.1,221.3 L247.6,214.8Z"/><path d="M296.3,285.0 L302.8,291.5 L296.3,298.0 L289.8,291.5Z"/><path d="M349.5,313.8 L356.0,320.3 L349.5,326.8 L343.0,320.3Z"/><path d="M361.9,295.5 L368.4,302.0 L361.9,308.5 L355.4,302.0Z"/><path d="M378.2,322.4 L384.7,328.9 L378.2,335.4 L371.7,328.9Z"/><path d="M420.7,325.8 L427.2,332.3 L420.7,338.8 L414.2,332.3Z"/><path d="M437.0,331.3 L443.5,337.8 L437.0,344.3 L430.5,337.8Z"/><path d="M450.3,315.5 L456.8,322.0 L450.3,328.5 L443.8,322.0Z"/><path d="M601.8,356.8 L608.3,363.3 L601.8,369.8 L595.3,363.3Z"/>
<rect x="260.9" y="165.6" width="9" height="9"/><rect x="463.3" y="304.2" width="9" height="9"/><rect x="560.8" y="336.1" width="9" height="9"/>
<rect x="403.1" y="56.1" width="9" height="9"/>
<path d="M408.0,104.7 L414.5,111.2 L408.0,117.7 L401.5,111.2Z"/>
</g>
<g font-size="23px">
<text x="59.0" y="460.6" text-anchor="middle">10</text><text x="141.3" y="460.6" text-anchor="middle">20</text><text x="223.6" y="460.6" text-anchor="middle">30</text><text x="305.9" y="460.6" text-anchor="middle">40</text><text x="388.1" y="460.6" text-anchor="middle">50</text><text x="470.4" y="460.6" text-anchor="middle">60</text><text x="552.7" y="460.6" text-anchor="middle">70</text><text x="635.0" y="460.6" text-anchor="middle">80</text>
</g>
<text x="431" y="71.6" font-size="23.5px" letter-spacing="0.5"><tspan font-weight="normal" stroke="#111" stroke-width="0.45">β</tspan>-SiC</text>
<text x="426.5" y="118" font-size="23px" letter-spacing="0.9">CaWO<tspan font-size="14px" dy="8" letter-spacing="0">4</tspan></text>
<text x="347" y="500" font-size="24.5px" text-anchor="middle">2 Theta (degree)</text>
<text transform="translate(17.6,230.8) rotate(-90)" font-size="24.5px" text-anchor="middle">Intensity (a.u.)</text>
</svg>
</body></html>
